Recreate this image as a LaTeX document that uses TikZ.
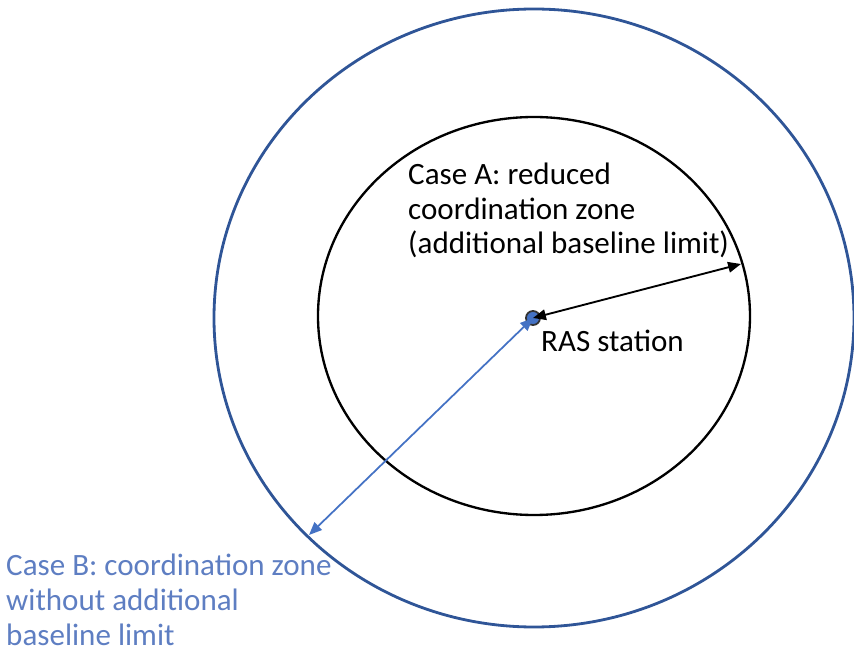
\documentclass[tikz,border=0pt]{standalone}
\usepackage{fontspec}
\setmainfont{Carlito}
\usetikzlibrary{arrows.meta}
\usetikzlibrary{positioning}
\definecolor{zoneblue}{HTML}{2F5597}
\definecolor{arrowblue}{HTML}{4472C4}
\definecolor{textblue}{HTML}{5E7EC2}

\begin{document}
\begin{tikzpicture}[x=0.03cm,y=-0.03cm]
            \useasboundingbox (0,0) rectangle (854,652);
            \draw[zoneblue, line width=2.4pt] (534,318) ellipse [x radius=320, y radius=309];
            \draw[black, line width=2pt] (534,316) ellipse [x radius=216, y radius=199];

            \node[draw=black!80, circle, fill=arrowblue, line width=1.5pt, minimum size=12pt, inner sep=0pt] (ras) at (533,318) {};
            \coordinate (innerpt) at (741,264);
            \coordinate (outerpt) at (309,535);

            \node[anchor=base west, inner sep=0pt, align=left, font=\fontsize{26.5}{29.8}\selectfont] (casea) at (408,254) {Case A: reduced\\coordination zone\\(additional baseline limit)};
            \node[anchor=base west, inner sep=0pt, font=\fontsize{26.5}{29.8}\selectfont] (raslabel) at (541,352) {RAS station};
            \node[anchor=base west, inner sep=0pt, align=left, text=textblue, font=\fontsize{26.5}{29.8}\selectfont] (caseb) at (6,645) {Case B: coordination zone\\without additional\\baseline limit};

            \draw[{Triangle[length=11pt,width=9pt]}-{Triangle[length=11pt,width=9pt]}, line width=1.6pt] (ras.center) -- (innerpt);
            \draw[{Triangle[length=11pt,width=9pt]}-{Triangle[length=11pt,width=9pt]}, arrowblue, line width=1.5pt] (ras.center) -- (outerpt);
        \end{tikzpicture}
\end{document}
